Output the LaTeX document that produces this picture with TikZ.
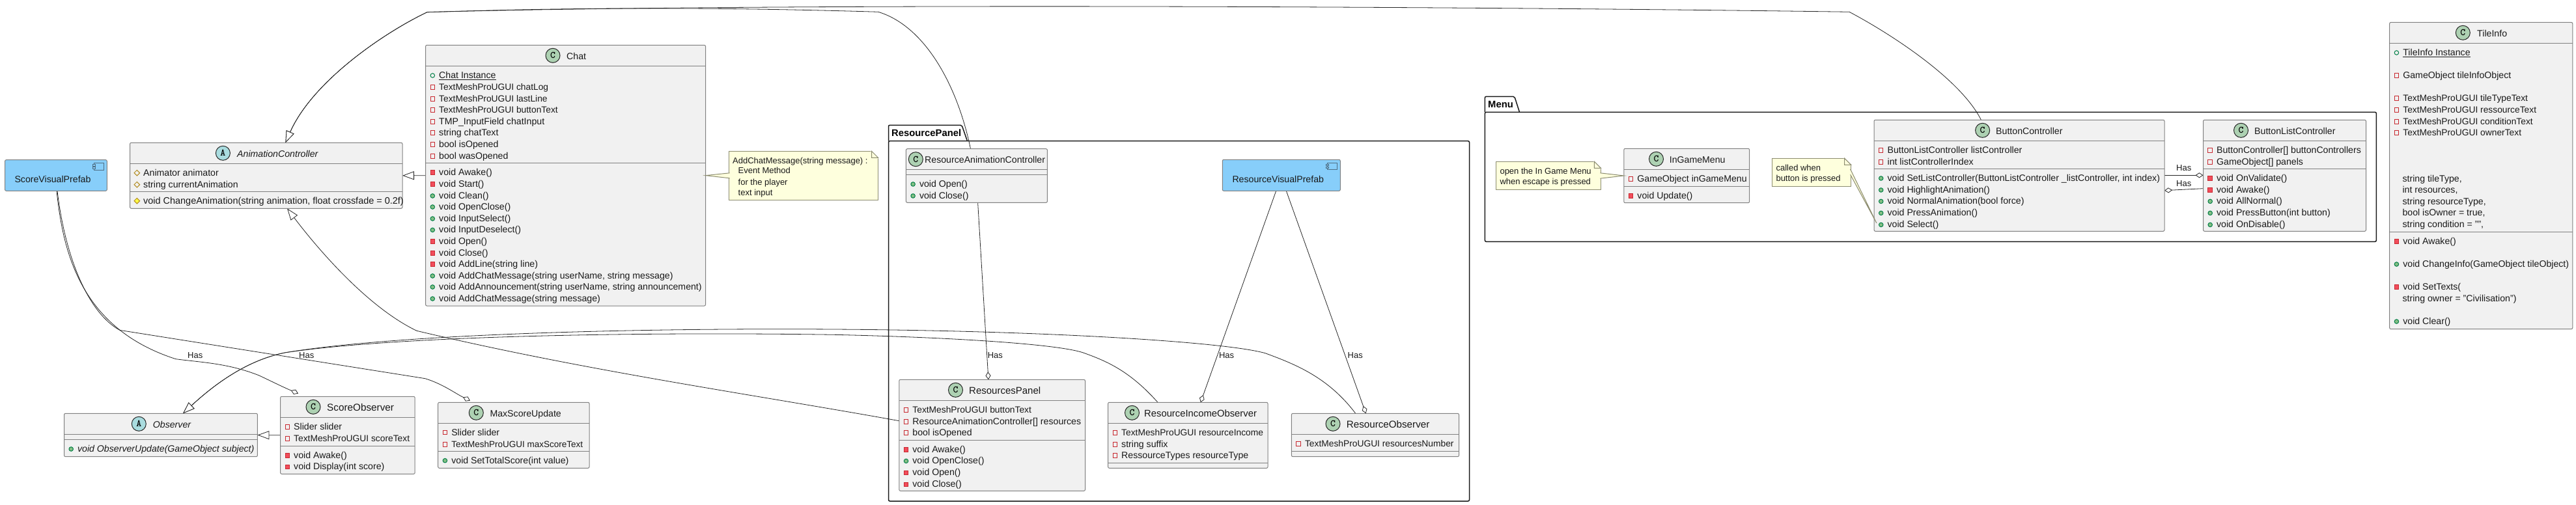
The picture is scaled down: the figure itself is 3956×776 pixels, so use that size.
\documentclass[tikz,border=0pt]{standalone}
\usepackage{fontspec}
\setmainfont{Liberation Sans}
\usepackage{tikz}
\usetikzlibrary{arrows.meta, backgrounds, shapes.geometric}
\definecolor{classfill}{HTML}{F1F1F1}
\definecolor{classline}{HTML}{808080}
\definecolor{classC}{HTML}{ADD1B2}
\definecolor{classA}{HTML}{A9DCDF}
\definecolor{notefill}{HTML}{FEFFDD}
\definecolor{noteline}{HTML}{8C8C70}
\definecolor{prefabfill}{HTML}{87CEFA}
\definecolor{prefabicon}{HTML}{4F6F85}
\definecolor{privline}{HTML}{C82930}
\definecolor{privfill}{HTML}{F24D5C}
\definecolor{publine}{HTML}{038048}
\definecolor{pubfill}{HTML}{84BE84}
\definecolor{protline}{HTML}{B38D22}
\definecolor{protfill}{HTML}{FFFF44}
\newcommand*{\fs}[1]{\fontsize{#1}{17}\selectfont}
\tikzset{
  box/.style = {rectangle, inner sep=0pt, outer sep=0pt, anchor=north west},
  classbox/.style = {box, draw=classline, fill=classfill, line width=1pt, rounded corners=2pt},
  prefabbox/.style = {box, draw=classline, fill=prefabfill, line width=1pt, rounded corners=2pt},
  notebox/.style = {box, draw=noteline, fill=notefill, line width=1pt},
  notetail/.style = {draw=noteline, fill=notefill, line width=1pt},
  rowtext/.style = {inner sep=0pt, anchor=base west, font=\fs{14.15}, text=black!90},
  notetext/.style = {inner sep=0pt, anchor=base west, font=\fs{13}, text=black!90},
  pkgtext/.style = {inner sep=0pt, anchor=base west, font=\fs{14.8}\bfseries},
  iconC/.style = {circle, draw=black!85, fill=classC, line width=1pt, minimum size=22pt,
    inner sep=0pt, font=\fontsize{15}{15}\selectfont\ttfamily\bfseries},
  iconA/.style = {iconC, fill=classA},
  privA/.style = {rectangle, inner sep=0pt, minimum size=6.5pt, draw=privline, line width=1pt},
  privM/.style = {privA, fill=privfill},
  pubA/.style = {circle, inner sep=0pt, minimum size=6.5pt, draw=publine, line width=1pt},
  pubM/.style = {pubA, fill=pubfill},
  protA/.style = {diamond, inner sep=0pt, minimum size=9pt, draw=protline, line width=1pt},
  protM/.style = {protA, fill=protfill},
  pkg/.style = {line width=1.5pt, draw=black!90, rounded corners=2pt},
  link/.style = {line width=0.8pt, draw=black!85},
  inh/.style = {link, -{Triangle[open, length=18pt, width=13pt, fill=white]}},
  has/.style = {link, -{Diamond[open, length=12pt, width=8pt, fill=white]}},
}
% class frame: name, x1, y1, x2, y2, first and second separator
\newcommand*{\umlclass}[7]{%
  \def\rowleft{#2}\def\rowtop{#3}%
  \node [classbox, minimum width={(#4-#2)*1pt}, minimum height={(#5-#3)*1pt}] (#1) at (#2,#3) {};
  \draw [classline, line width=1pt] (#2,#6) -- (#4,#6);
  \draw [classline, line width=1pt] (#2,#7) -- (#4,#7);
}
% head: name, icon style, letter, icon x, title x, title
\newcommand*{\umlhead}[6]{%
  \node [#2] (#1-icon) at (#4,\rowtop+16) {#3};
  \node [rowtext] (#1-title) at (#5,\rowtop+22) {#6};
}
\newcommand*{\umlrows}[2]{%
  \foreach \y/\m/\t [count=\i] in {#2} {
    \node [\m] (#1-mark\i) at (\rowleft+10.7,\y+0.7) {};
    \node [rowtext] (#1-row\i) at (\rowleft+20.4,\y+5) {\t};
  }
}
\newcommand*{\umlnote}[5]{%
  \node [notebox, minimum width={(#4-#2)*1pt}, minimum height={(#5-#3)*1pt}] (#1) at (#2,#3) {};
  \filldraw [white, line width=1.5pt] ([xshift=-10pt]#1.north east) -- (#1.north east)
    -- ([yshift=-10pt]#1.north east) -- cycle;
  \filldraw [notetail] ([xshift=-10pt]#1.north east) -- ([yshift=-10pt]#1.north east)
    -- ([xshift=-10pt,yshift=-10pt]#1.north east) -- cycle;
}
\newcommand*{\noterows}[2]{%
  \foreach \x/\y/\t [count=\i] in {#2} {
    \node [notetext] (#1-line\i) at (\x,\y+4.6) {\t};
  }
}
% prefab: name, x1, y1, x2, y2, text x, text
\newcommand*{\umlprefab}[7]{%
  \node [prefabbox, minimum width={(#4-#2)*1pt}, minimum height={(#5-#3)*1pt}] (#1) at (#2,#3) {};
  \node [rowtext] (#1-title) at (#6,#3+34.7) {#7};
  \draw [prefabicon, line width=1pt] ([shift={(-20,4.7)}]#1.north east) rectangle ([shift={(-4.6,15.4)}]#1.north east);
  \filldraw [prefabicon, fill=prefabfill, line width=1pt] ([shift={(-22,7)}]#1.north east) rectangle ([shift={(-18,9.4)}]#1.north east);
  \filldraw [prefabicon, fill=prefabfill, line width=1pt] ([shift={(-22,11)}]#1.north east) rectangle ([shift={(-18,13.4)}]#1.north east);
}

\begin{document}
\begin{tikzpicture}[x=1pt, y=-1pt]
  \useasboundingbox (0,0) rectangle (3956,776);

  % packages
  \draw [pkg] (1364.5,216.7) -- (1364.5,192.3) -- (1477,192.3) -- (1485.5,216.7);
  \draw [pkg] (1364.5,216.7) -- (2256.5,216.7) -- (2256.5,770) -- (1364.5,770) -- cycle;
  \node [pkgtext] (resourcepkg) at (1369,209.3) {ResourcePanel};
  \draw [pkg] (2280.4,172.3) -- (2280.4,148.3) -- (2325.8,148.3) -- (2333.5,172.3);
  \draw [pkg] (2280.4,172.3) -- (3649.3,172.3) -- (3649.3,371.3) -- (2280.4,371.3) -- cycle;
  \node [pkgtext] (menupkg) at (2285,165.3) {Menu};

  % left side
  \umlprefab{scoreprefab}{7.6}{245.7}{164.3}{293.3}{22.3}{ScoreVisualPrefab}
  \umlclass{animctrl}{199.6}{219.3}{618}{320.3}{251.3}{294.3}
  \umlhead{animctrl}{iconA}{A}{342.4}{364}{\itshape AnimationController}
  \umlrows{animctrl}{265/protA/Animator animator, 283/protA/string currentAnimation,
    308/protM/{\fs{14.45}void ChangeAnimation(string animation, float crossfade = 0.2f)}}

  \umlclass{chat}{653.6}{69.3}{1083.5}{470}{101.3}{250.3}
  \umlhead{chat}{iconC}{C}{849}{870}{Chat}
  \umlrows{chat}{115.3/pubA/\underline{Chat Instance}, 133.3/privA/\fs{13.8}TextMeshProUGUI chatLog,
    151.3/privA/\fs{13.8}TextMeshProUGUI lastLine, 168.3/privA/\fs{13.8}TextMeshProUGUI buttonText,
    186.3/privA/TMP\_InputField chatInput, 203.3/privA/string chatText,
    221.3/privA/bool isOpened, 239.3/privA/bool wasOpened,
    264.3/privM/void Awake(), 282.3/privM/void Start(), 300.3/pubM/void Clean(),
    317.3/pubM/void OpenClose(), 335.3/pubM/void InputSelect(), 352.7/pubM/void InputDeselect(),
    370.3/privM/void Open(), 388.3/privM/void Close(), 405.3/privM/void AddLine(string line),
    423.3/pubM/{void AddChatMessage(string userName, string message)},
    440.3/pubM/{void AddAnnouncement(string userName, string announcement)},
    458.3/pubM/void AddChatMessage(string message)}

  \umlnote{chatnote}{1119.6}{232.3}{1348.5}{307.3}
  \noterows{chatnote}{1125/246.7/AddChatMessage(string message) :, 1133.5/262.3/Event Method,
    1133.5/280/for the player, 1133.5/295.7/text input}
  \filldraw [notetail] ([yshift=4pt,xshift=1pt]chatnote.west) -- (chat.east) -- ([yshift=-4pt,xshift=1pt]chatnote.west);

  \umlclass{observer}{98.5}{635.3}{395.4}{701.7}{667.3}{675.3}
  \umlhead{observer}{iconA}{A}{213.3}{234.7}{\itshape Observer}
  \umlrows{observer}{689.3/pubM/{\itshape void ObserverUpdate(GameObject subject)}}

  \umlclass{scoreobs}{430.6}{609.3}{637.2}{728.3}{641.3}{685.3}
  \umlhead{scoreobs}{iconC}{C}{481}{502}{\fs{15.3}ScoreObserver}
  \umlrows{scoreobs}{655.3/privA/Slider slider, 673.3/privA/\fs{13.8}TextMeshProUGUI scoreText,
    699.3/privM/void Awake(), 716.7/privM/void Display(int score)}

  \umlclass{maxscore}{672.7}{618.3}{905}{719.3}{650.3}{693.3}
  \umlhead{maxscore}{iconC}{C}{731.3}{752.3}{MaxScoreUpdate}
  \umlrows{maxscore}{664/privA/Slider slider, 682.3/privA/\fs{13.5}TextMeshProUGUI maxScoreText,
    707/pubM/void SetTotalScore(int value)}

  % resource panel
  \umlclass{resanim}{1391.4}{228.7}{1608.4}{311.3}{260.3}{268.3}
  \umlhead{resanim}{iconC}{C}{1406.3}{1420}{ResourceAnimationController}
  \umlrows{resanim}{282.3/pubM/void Open(), 300.3/pubM/void Close()}
  \umlprefab{resprefab}{1877.3}{245.3}{2058.3}{293.3}{1892.3}{ResourceVisualPrefab}

  \umlclass{respanel}{1380.8}{583.3}{1666.5}{754.3}{615.3}{676.3}
  \umlhead{respanel}{iconC}{C}{1467.5}{1488}{\fs{15}ResourcesPanel}
  \umlrows{respanel}{629.3/privA/\fs{13.8}TextMeshProUGUI buttonText,
    647.3/privA/ResourceAnimationController[] resources, 664.3/privA/bool isOpened,
    690.3/privM/void Awake(), 707.7/pubM/void OpenClose(), 725.7/privM/void Open(), 743.7/privM/void Close()}

  \umlclass{resincome}{1701.6}{618.3}{1947}{719.3}{650.3}{711.3}
  \umlhead{resincome}{iconC}{C}{1738.5}{1757}{\fs{14.8}ResourceIncomeObserver}
  \umlrows{resincome}{664.3/privA/\fs{13.8}TextMeshProUGUI resourceIncome, 682.3/privA/string suffix,
    699.3/privA/RessourceTypes resourceType}

  \umlclass{resobs}{1983.4}{635.3}{2240.5}{701.7}{667.3}{693.3}
  \umlhead{resobs}{iconC}{C}{2047}{2067.6}{\fs{15.2}ResourceObserver}
  \umlrows{resobs}{681.3/privA/\fs{13.8}TextMeshProUGUI resourcesNumber}

  % menu
  \umlclass{ingame}{2493.8}{228.3}{2686.6}{311.7}{260.3}{286.3}
  \umlhead{ingame}{iconC}{C}{2543.5}{2563.6}{InGameMenu}
  \umlrows{ingame}{274.3/privA/GameObject inGameMenu, 300.3/privM/void Update()}
  \umlnote{menunote}{2297.6}{248.3}{2458.4}{291.7}
  \noterows{menunote}{2303.3/262.7/open the In Game Menu, 2303.3/278.7/when escape is pressed}
  \filldraw [notetail] ([yshift=4.2pt,xshift=-1pt]menunote.east) -- (ingame.west) -- ([yshift=-4.2pt,xshift=-1pt]menunote.east);

  \umlclass{btnctrl}{2878}{184.3}{3324}{355.3}{216.3}{259.3}
  \umlhead{btnctrl}{iconC}{C}{3044.6}{3065}{ButtonController}
  \umlrows{btnctrl}{230.3/privA/ButtonListController listController, 248.3/privA/int listControllerIndex,
    273.3/pubM/{void SetListController(ButtonListController \_listController, int index)},
    291.3/pubM/void HighlightAnimation(), 308.7/pubM/void NormalAnimation(bool force),
    326.7/pubM/void PressAnimation(), 344.7/pubM/void Select()}
  \umlnote{pressnote}{2721.5}{243.3}{2842.6}{286.7}
  \noterows{pressnote}{2727.3/257.7/called when, 2727.3/273.7/button is pressed}
  \filldraw [notetail] ([yshift=5pt,xshift=-1pt]pressnote.east) -- ([xshift=3.8pt,yshift=-158.4pt]btnctrl.north west)
    -- ([yshift=-3.3pt,xshift=-1pt]pressnote.east);

  \umlclass{btnlist}{3383.5}{184.3}{3633.5}{355.3}{216.3}{259.3}
  \umlhead{btnlist}{iconC}{C}{3441.5}{3462}{ButtonListController}
  \umlrows{btnlist}{230.3/privA/ButtonController[] buttonControllers, 248.3/privA/GameObject[] panels,
    273.3/privM/void OnValidate(), 291.3/privM/void Awake(), 308.7/pubM/void AllNormal(),
    326.7/pubM/void PressButton(int button), 344.7/pubM/void OnDisable()}

  % tile info
  \umlclass{tileinfo}{3669.7}{34.3}{3950.7}{505.7}{66.3}{356.3}
  \umlhead{tileinfo}{iconC}{C}{3782.3}{3804}{TileInfo}
  \umlrows{tileinfo}{80.3/pubA/\underline{TileInfo Instance}, 115.3/privA/GameObject tileInfoObject,
    150.3/privA/\fs{13.8}TextMeshProUGUI tileTypeText, 168.3/privA/\fs{13.8}TextMeshProUGUI ressourceText,
    186.3/privA/\fs{13.8}TextMeshProUGUI conditionText, 203.3/privA/\fs{13.8}TextMeshProUGUI ownerText,
    370.3/privM/void Awake(), 405.3/pubM/void ChangeInfo(GameObject tileObject),
    440.3/privM/void SetTexts(, 493.3/pubM/void Clear()}
  \foreach \y/\t [count=\i] in {274.3/string tileType{,}, 291/int resources{,}, 309.3/string resourceType{,},
    326/bool isOwner = true{,}, 344/string condition = ""{,}, 458.3/string owner = "Civilisation")} {
    \node [rowtext] (tileinfo-plain\i) at (3689.3,\y+5) {\t};
  }

  % Has labels
  \foreach \x/\y [count=\i] in {288/545.7, 459/545.7, 1516.6/546, 1871.8/546, 2069.5/546, 3342/258.3, 3342/282.3} {
    \node [notetext] (has\i) at (\x,\y+4.6) {Has};
  }

  % connectors go under the boxes
  \begin{scope}[on background layer]
    \draw [inh] (chat.west) -- (animctrl.east);
    \draw [inh] (scoreobs.west) -- (observer.east);
    \draw [inh] ([xshift=99.1pt]resanim.north west) .. controls (1470,130) and (1420,40) .. (1348.8,18.3)
      .. controls (1100,11) and (900,11) .. (656,18.7)
      .. controls (590,50) and (480,125) .. ([xshift=238.8pt]animctrl.north west);
    \draw [inh] ([xshift=164.4pt]btnctrl.north west) .. controls (3010,120) and (2900,50) .. (2840,18.3)
      .. controls (2100,8) and (1100,6) .. (656,18.7)
      .. controls (590,50) and (480,125) .. ([xshift=238.8pt]animctrl.north west);
    \draw [inh] ([yshift=-63.4pt]respanel.north west) .. controls (1150,605) and (900,570) .. (640,508.3)
      .. controls (560,470) and (480,372) .. ([xshift=241.4pt]animctrl.south west);
    \draw [inh] ([xshift=76.4pt]resincome.north west) .. controls (1735,570) and (1700,555) .. (1662.7,541.7)
      .. controls (1620,528) and (1450,518) .. (1280,514.3)
      .. controls (1000,510) and (620,515) .. (438.8,541.7)
      .. controls (380,553) and (330,590) .. ([xshift=182.5pt]observer.north west);
    \draw [inh] ([xshift=98.3pt]resobs.north west) .. controls (2040,580) and (1990,560) .. (1943,542.7)
      .. controls (1880,525) and (1600,508) .. (1280,506)
      .. controls (1000,504) and (620,512) .. (438.8,541.7)
      .. controls (380,553) and (330,590) .. ([xshift=182.5pt]observer.north west);
    \draw [has] ([xshift=79.4pt]scoreprefab.south west) .. controls (97,390) and (125,505) .. (270,551.7)
      .. controls (310,557) and (350,558) .. (398,577)
      .. controls (415,585) and (435,595) .. ([shift={(27.4,-4.7)}]scoreobs.north west);
    \draw [has] ([xshift=80.4pt]scoreprefab.south west) .. controls (100,395) and (135,480) .. (183.7,507.3)
      -- (653,581.7) .. controls (680,590) and (700,605) .. ([shift={(49.3,-2.7)}]maxscore.north west);
    \draw [has] ([xshift=110.2pt]resanim.south west) -- ([xshift=137.1pt]respanel.north west);
    \draw [has] ([xshift=82.4pt]resprefab.south west) -- ([xshift=142.2pt]resincome.north west);
    \draw [has] ([xshift=98pt]resprefab.south west) -- ([xshift=114.2pt]resobs.north west);
    \draw [has] ([yshift=-85pt]btnctrl.north east) -- ([yshift=-85pt]btnlist.north west);
    \draw [has] ([yshift=-105.4pt]btnlist.north west) -- ([yshift=-108.4pt]btnctrl.north east);
  \end{scope}
\end{tikzpicture}
\end{document}
